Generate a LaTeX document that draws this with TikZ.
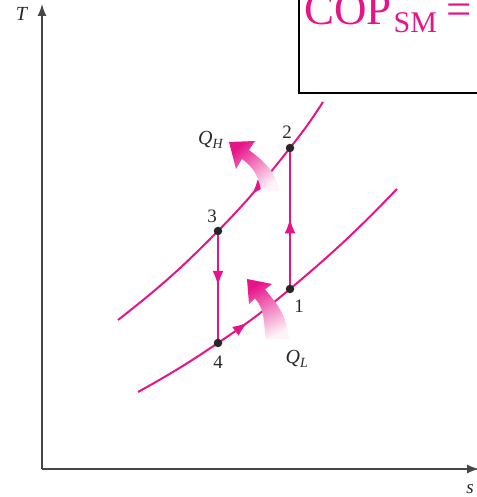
\documentclass[tikz,border=0pt]{standalone}
\usepackage{fontspec}
\setmainfont{Liberation Serif}
\usetikzlibrary{arrows.meta,decorations.markings}
\definecolor{mag}{RGB}{230,20,137}
\definecolor{axisgray}{RGB}{70,70,70}
\definecolor{labelgray}{RGB}{40,40,40}
\begin{document}
\begin{tikzpicture}[x=1pt,y=1pt,
  curve/.style={mag, line width=2pt},
  flow/.style={curve, postaction={decorate}, decoration={markings, mark=at position #1 with {\arrow{Latex[length=15pt,width=11pt]}}}},
  dot/.style={circle, fill=black!85, inner sep=0pt, minimum size=8.5pt},
  num/.style={text=labelgray, inner sep=0pt, font=\fontsize{19}{20}\selectfont},
  axis/.style={axisgray, line width=1.5pt},
  heat/.style={top color=mag, middle color=mag!75, bottom color=mag!5},
]
\useasboundingbox (0,0) rectangle (476,497);

% axes
\coordinate (O) at (42,28);
\coordinate (ytop) at (42,493);
\coordinate (xend) at (479,28);
\draw[axis, -{Latex[length=12pt,width=9pt]}] (O) -- (ytop);
\draw[axis, -{Latex[length=12pt,width=9pt]}] (O) -- (xend);
\node[text=labelgray, inner sep=0pt, font=\fontsize{20}{20}\selectfont] (Tlab) at (22,483) {\textit{T}};
\node[text=labelgray, inner sep=0pt, font=\fontsize{19}{19}\selectfont] (slab) at (470,8) {\textit{s}};

% COP box
\draw[line width=2pt, black] (299,404) rectangle (510,530);
\node[anchor=base west, text=mag, inner sep=0pt] (cop) at (304,472)
  {\fontsize{45}{50}\selectfont COP\kern2pt\raisebox{-8pt}{\fontsize{30}{32}\selectfont SM}\kern9pt=};

% state points
\coordinate (c1) at (290,208);
\coordinate (c2) at (290,349);
\coordinate (c3) at (218,266);
\coordinate (c4) at (218,154);
\coordinate (ua) at (118,177);
\coordinate (ub) at (323,395);
\coordinate (la) at (138,105);
\coordinate (lb) at (397,308);

% upper curve
\draw[curve] (ua) to[out=38,in=-134.5] (c3);
\draw[flow=0.55] (c2) to[out=-128.5,in=45.5] (c3);
\draw[curve] (c2) to[out=51.5,in=-123] (ub);
% lower curve
\draw[curve] (la) to[out=29,in=-146] (c4);
\draw[flow=0.4] (c4) to[out=34,in=-140] (c1);
\draw[curve] (c1) to[out=40,in=-134] (lb);
% verticals
\draw[flow=0.5] (c1) -- (c2);
\draw[flow=0.49] (c3) -- (c4);

% heat arrows
\shade[heat, shading angle=39]
  (261,307) to[out=100,in=-37] (242,338) -- (236,328) -- (229,355) -- (255,356)
  -- (249,347) to[out=-37,in=100] (279,306) -- cycle;
\shade[heat, shading angle=27]
  (266,158) to[out=100,in=-49] (255,198.5) -- (249,193) -- (247,218) -- (272,213)
  -- (265,207.5) to[out=-49,in=95] (289,158) -- cycle;

% dots
\node[dot] (n1) at (c1) {};
\node[dot] (n2) at (c2) {};
\node[dot] (n3) at (c3) {};
\node[dot] (n4) at (c4) {};

% labels
\node[num] (l1) at (299,191) {1};
\node[num] (l2) at (287,365) {2};
\node[num] (l3) at (212,281) {3};
\node[num] (l4) at (218,135) {4};
\node[num, font=\fontsize{20}{20}\selectfont] (qh) at (211,357) {\textit{Q}\textsubscript{\textit{H}}};
\node[num, font=\fontsize{20}{20}\selectfont] (ql) at (297,138) {\textit{Q}\textsubscript{\textit{L}}};
\end{tikzpicture}
\end{document}
